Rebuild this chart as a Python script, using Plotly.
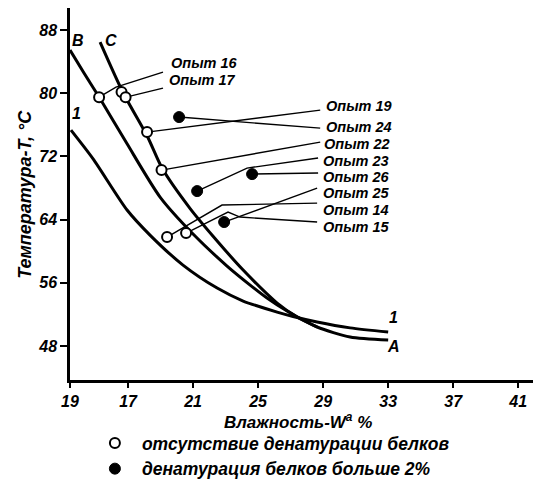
import plotly.graph_objects as go

# ---- data ----
X_TICK_VALS = [13.43, 17, 21, 25, 29, 33, 37, 41]
X_TICK_TEXT = ["19", "17", "21", "25", "29", "33", "37", "41"]
Y_TICK_VALS = [48, 56, 64, 72, 80, 88]

CURVE1_X = [13.49, 14.85, 16.94, 18.35, 20.38, 22.48, 24.08, 26.17, 27.15, 28.63, 30.66, 33.0]
CURVE1_Y = [75.34, 71.7, 65.22, 62.05, 58.25, 55.34, 53.7, 52.3, 51.75, 51.05, 50.3, 49.77]

CURVE_B_X = [13.43, 14.29, 15.22, 16.94, 18.97, 21.0, 23.09, 24.51, 25.55, 26.78, 28.63, 30.66, 33.0]
CURVE_B_Y = [85.47, 82.56, 79.52, 73.6, 66.86, 62.18, 58.13, 55.72, 54.08, 52.43, 50.41, 49.14, 48.76]

CURVE_C_X = [15.28, 16.69, 18.2, 19.1, 20.82, 22.23, 24.08, 26.17, 27.4, 28.63]
CURVE_C_Y = [86.48, 80.1, 74.5, 70.5, 65.4, 61.9, 57.62, 53.44, 51.67, 50.41]

OPEN_X = [15.22, 16.6, 16.85, 18.17, 19.06, 19.4, 20.57]
OPEN_Y = [79.5, 80.15, 79.5, 75.09, 70.28, 61.8, 62.3]

FILLED_X = [20.14, 21.25, 24.63, 22.91]
FILLED_Y = [76.99, 67.62, 69.77, 63.7]

LABELS = ["Опыт 16", "Опыт 17", "Опыт 19", "Опыт 24", "Опыт 22",
          "Опыт 23", "Опыт 26", "Опыт 25", "Опыт 14", "Опыт 15"]
LABEL_X = [19.55, 19.45, 29.12, 29.12, 29.0, 28.95, 28.95, 28.95, 28.95, 28.95]
LABEL_Y = [83.82, 81.67, 78.38, 75.72, 73.57, 71.42, 69.39, 67.37, 65.22, 63.06]

LEADER_X = [
    [15.22, 16.26, 19.15],
    [16.88, 19.15],
    [18.17, 28.82],
    [20.14, 28.82],
    [19.06, 28.82],
    [21.25, 24.32, 28.69],
    [24.63, 28.69],
    [22.91, 28.63],
    [19.4, 22.78, 28.63],
    [20.57, 23.15, 23.89, 28.63],
]
LEADER_Y = [
    [79.52, 80.78, 82.68],
    [79.52, 80.66],
    [75.09, 77.87],
    [76.99, 75.59],
    [70.28, 73.82],
    [67.62, 70.53, 71.8],
    [69.77, 69.9],
    [63.7, 68.0],
    [61.8, 65.85, 66.1],
    [62.3, 64.96, 64.33, 63.7],
]

CURVE_NAMES = ["B", "C", "1", "1", "A"]
CURVE_NAME_X = [13.95, 15.95, 13.86, 33.3, 33.3]
CURVE_NAME_Y = [86.73, 86.73, 77.5, 51.6, 48.0]

LEGEND_OPEN = "отсутствие денатурации белков"
LEGEND_FILLED = "денатурация белков больше 2%"

FONT = "Liberation Sans"

fig = go.Figure()

for lx, ly in zip(LEADER_X, LEADER_Y):
    fig.add_trace(go.Scatter(x=lx, y=ly, mode="lines", showlegend=False,
                             hoverinfo="skip",
                             line=dict(color="black", width=1.4)))

for cx, cy in [(CURVE1_X, CURVE1_Y), (CURVE_B_X, CURVE_B_Y), (CURVE_C_X, CURVE_C_Y)]:
    fig.add_trace(go.Scatter(x=cx, y=cy, mode="lines", showlegend=False,
                             line=dict(color="black", width=3, shape="spline", smoothing=0.7)))

fig.add_trace(go.Scatter(x=OPEN_X, y=OPEN_Y, mode="markers", name=LEGEND_OPEN,
                         marker=dict(symbol="circle", size=10, color="white",
                                     line=dict(color="black", width=2))))
fig.add_trace(go.Scatter(x=FILLED_X, y=FILLED_Y, mode="markers", name=LEGEND_FILLED,
                         marker=dict(symbol="circle", size=11, color="black",
                                     line=dict(color="black", width=1))))

for t, x, y in zip(LABELS, LABEL_X, LABEL_Y):
    fig.add_annotation(x=x, y=y, text=t, showarrow=False, xanchor="left", yanchor="middle",
                       borderpad=0,
                       font=dict(family=FONT, size=14.5, color="black", style="italic", weight="bold"))

for t, x, y in zip(CURVE_NAMES, CURVE_NAME_X, CURVE_NAME_Y):
    fig.add_annotation(x=x, y=y, text=t, showarrow=False, xanchor="center", yanchor="middle",
                       font=dict(family=FONT, size=16, color="black", style="italic", weight="bold"))

fig.add_annotation(xref="paper", yref="paper", x=0.484, y=-0.11,
                   text="Влажность-W<sup>a</sup> %", showarrow=False,
                   xanchor="center", yanchor="middle",
                   font=dict(family=FONT, size=17, color="black", style="italic", weight="bold"))
fig.add_annotation(xref="paper", yref="paper", x=-0.096, y=0.5,
                   text="Температура-T, °C", showarrow=False, textangle=-90,
                   xanchor="center", yanchor="middle",
                   font=dict(family=FONT, size=18, color="black", style="italic", weight="bold"))

tickfont = dict(family=FONT, size=16, color="black", style="italic", weight="bold")

# the page body adds an 8 px offset; margins compensate for it
fig.update_layout(
    width=541, height=481,
    margin=dict(l=62, r=8, t=0, b=109, autoexpand=False),
    paper_bgcolor="white", plot_bgcolor="white",
    showlegend=True,
    legend=dict(x=0.038, y=-0.121, xanchor="left", yanchor="top",
                font=dict(family=FONT, size=17.5, color="black", style="italic", weight="bold"),
                bgcolor="rgba(0,0,0,0)", itemwidth=44, tracegroupgap=0),
    xaxis=dict(range=[13.43, 42.4], tickvals=X_TICK_VALS, ticktext=X_TICK_TEXT,
               showgrid=False, zeroline=False, showline=True, linecolor="black",
               linewidth=2.5, ticks="outside", ticklen=5, tickwidth=1.5, tickcolor="black",
               tickfont=tickfont),
    yaxis=dict(range=[43.7, 90.8], tickvals=Y_TICK_VALS,
               showgrid=False, zeroline=False, showline=True, linecolor="black",
               linewidth=2.5, ticks="outside", ticklen=7, tickwidth=1.5, tickcolor="black",
               tickfont=tickfont),
)

fig.write_html("out.html")
